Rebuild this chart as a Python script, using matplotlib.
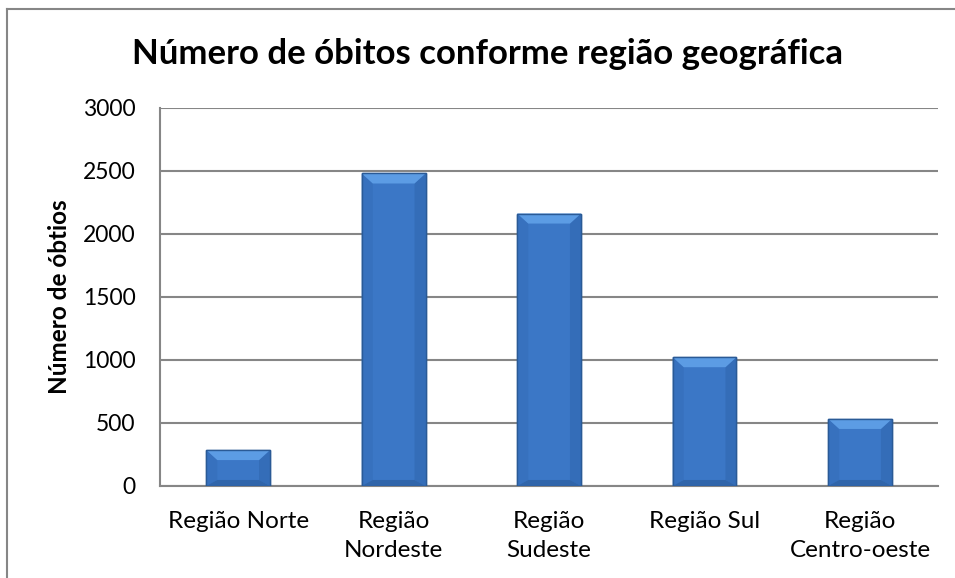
import matplotlib.pyplot as plt
from matplotlib.patches import Polygon
from matplotlib.lines import Line2D

plt.rcParams['font.family'] = ['Lato', 'DejaVu Sans']

# data
regioes = ['Região Norte', 'Região\nNordeste', 'Região\nSudeste', 'Região Sul', 'Região\nCentro-oeste']
obitos = [285, 2480, 2162, 1022, 532]
yticks = [0, 500, 1000, 1500, 2000, 2500, 3000]

grid_gray = '#868686'
base = '#3B77C6'

fig = plt.figure(figsize=(9.55, 5.78), dpi=100)
ax = fig.add_axes([0.168, 0.1592, 0.814, 0.654])

bars = ax.bar(range(len(regioes)), obitos, width=0.41, color=base,
              edgecolor='#2A5A96', linewidth=1, zorder=3)

ax.set_xlim(-0.5, len(regioes) - 0.5)
ax.set_ylim(0, 3000)
ax.set_yticks(yticks)
ax.set_xticks(range(len(regioes)))
ax.set_xticklabels(regioes, fontsize=17.5, linespacing=1.5)
ax.tick_params(axis='y', length=0, pad=18, labelsize=16.5)
ax.tick_params(axis='x', length=0, pad=18)
ax.yaxis.grid(True, color=grid_gray, linewidth=1.5, zorder=0)
ax.set_axisbelow(True)
for s in ['top', 'right']:
    ax.spines[s].set_visible(False)
for s in ['left', 'bottom']:
    ax.spines[s].set_color(grid_gray)
    ax.spines[s].set_linewidth(1.5)

ax.set_ylabel('Número de óbtios', fontsize=17.5, fontweight='bold')
ax.yaxis.set_label_coords(-0.115, 0.5)
fig.suptitle('Número de óbitos conforme região geográfica', fontsize=25,
             fontweight='bold', x=0.510, y=0.934)

# bevel effect on each bar, computed from the bar patches
fig.canvas.draw()
px_x = 1.0 / (ax.transData.transform((1, 0))[0] - ax.transData.transform((0, 0))[0])
px_y = 1.0 / (ax.transData.transform((0, 1))[1] - ax.transData.transform((0, 0))[1])
for b in bars:
    x0, w, h = b.get_x(), b.get_width(), b.get_height()
    x1 = x0 + w
    dx = 11 * px_x
    dy = min(10 * px_y, h / 2)
    top = [(x0, h), (x1, h), (x1 - dx, h - dy), (x0 + dx, h - dy)]
    bot = [(x0, 0), (x1, 0), (x1 - dx, dy * 0.6), (x0 + dx, dy * 0.6)]
    left = [(x0, 0), (x0, h), (x0 + dx, h - dy), (x0 + dx, dy * 0.6)]
    right = [(x1, 0), (x1, h), (x1 - dx, h - dy), (x1 - dx, dy * 0.6)]
    ax.add_patch(Polygon(left, closed=True, color='#3771BE', zorder=4, lw=0))
    ax.add_patch(Polygon(right, closed=True, color='#346DB8', zorder=4, lw=0))
    ax.add_patch(Polygon(bot, closed=True, color='#3065AA', zorder=4, lw=0))
    ax.add_patch(Polygon(top, closed=True, color='#5C9CE4', zorder=4, lw=0))
    ax.add_patch(Polygon([(x0, 0), (x1, 0), (x1, h), (x0, h)], closed=True,
                         fill=False, edgecolor='#2A5A96', lw=1, zorder=5))

# outer chart border (left and top edges visible)
fig.add_artist(Line2D([0.0075, 0.0075], [0, 0.985], color=grid_gray, lw=1.5))
fig.add_artist(Line2D([0.0075, 1.0], [0.985, 0.985], color=grid_gray, lw=1.5))

fig.savefig('out.png', dpi=100)
